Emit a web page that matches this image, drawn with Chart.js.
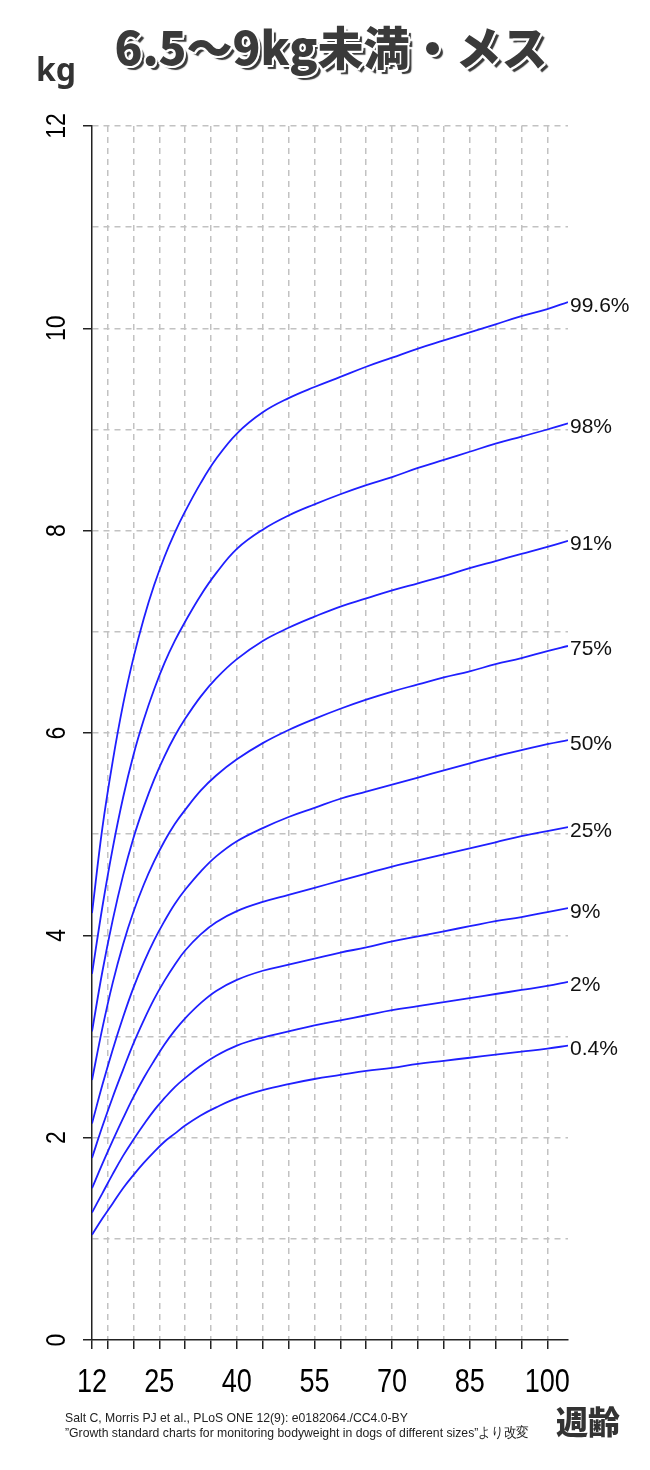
<!DOCTYPE html>
<html lang="ja">
<head>
<meta charset="utf-8">
<title>6.5〜9kg未満・メス</title>
<script src="https://cdn.jsdelivr.net/npm/chart.js@4.4.1/dist/chart.umd.min.js"></script>
<style>
  html, body { margin: 0; padding: 0; background: #fff; }
  #page { position: relative; width: 650px; height: 1470px; overflow: hidden; }
  #chartBox { position: absolute; left: 0; top: 0; width: 650px; height: 1470px; }
  .title {
    position: absolute; left: 0; width: 662px; top: 20px; text-align: center;
    font-family: "Noto Sans CJK JP", "Noto Sans", sans-serif; font-weight: 900;
    font-size: 46px; line-height: 50px; color: #3a3a3a; white-space: nowrap;
    text-shadow: 2px 0 0 #fff, -2px 0 0 #fff, 0 2px 0 #fff, 0 -2px 0 #fff,
      1.5px 1.5px 0 #fff, -1.5px -1.5px 0 #fff, 1.5px -1.5px 0 #fff, -1.5px 1.5px 0 #fff,
      4px 4px 1px #3a3a3a;
  }
  .unit {
    position: absolute; left: 36px; top: 48px;
    font-family: "Noto Sans", "Noto Sans CJK JP", sans-serif; font-weight: 700;
    font-size: 32px; line-height: 42px; color: #333;
  }
  .xunit {
    position: absolute; left: 556px; top: 1400px;
    font-family: "Noto Sans CJK JP", sans-serif; font-weight: 900;
    font-size: 32px; line-height: 40px; color: #333;
  }
  .credit {
    position: absolute; left: 65px; top: 1410px;
    font-family: "Liberation Sans", Arial, sans-serif; font-size: 13.5px; line-height: 15px;
    color: #222; white-space: nowrap; transform: scaleX(0.905); transform-origin: 0 0;
  }
</style>
</head>
<body>
<div id="page">
  <div id="chartBox"><canvas id="myChart"></canvas></div>
  <div class="title">6.5〜9kg未満・メス</div>
  <div class="unit">kg</div>
  <div class="xunit">週齢</div>
  <div class="credit">Salt C, Morris PJ et al., PLoS ONE 12(9): e0182064./CC4.0-BY<br>”Growth standard charts for monitoring bodyweight in dogs of different sizes”より改変</div>
</div>
<script>
// age in weeks
const weeks = [12, 14, 16, 18, 20, 22, 24, 26, 28, 30, 33, 36, 40, 45, 50, 55, 60, 65, 70, 75, 80, 85, 90, 95, 100, 104];

// body weight (kg) per percentile
const p996 = [4.22, 5.06, 5.72, 6.28, 6.74, 7.13, 7.46, 7.74, 7.98, 8.19, 8.47, 8.71, 8.96, 9.17, 9.31, 9.42, 9.52, 9.62, 9.71, 9.80, 9.88, 9.96, 10.04, 10.12, 10.19, 10.26];
const p98 = [3.62, 4.28, 4.86, 5.36, 5.78, 6.13, 6.43, 6.69, 6.91, 7.10, 7.36, 7.58, 7.82, 8.01, 8.15, 8.26, 8.36, 8.45, 8.53, 8.62, 8.70, 8.78, 8.86, 8.93, 9.00, 9.06];
const p91 = [3.05, 3.64, 4.15, 4.59, 4.96, 5.27, 5.54, 5.77, 5.97, 6.14, 6.36, 6.54, 6.73, 6.91, 7.04, 7.15, 7.25, 7.33, 7.41, 7.48, 7.55, 7.63, 7.70, 7.77, 7.84, 7.90];
const p75 = [2.57, 3.08, 3.53, 3.91, 4.23, 4.50, 4.73, 4.93, 5.10, 5.24, 5.43, 5.58, 5.74, 5.90, 6.03, 6.14, 6.24, 6.33, 6.41, 6.48, 6.55, 6.61, 6.68, 6.74, 6.81, 6.86];
const p50 = [2.14, 2.52, 2.87, 3.19, 3.48, 3.73, 3.95, 4.14, 4.31, 4.45, 4.63, 4.78, 4.93, 5.06, 5.17, 5.26, 5.35, 5.42, 5.49, 5.56, 5.63, 5.70, 5.77, 5.83, 5.89, 5.93];
const p25 = [1.80, 2.11, 2.40, 2.67, 2.93, 3.16, 3.37, 3.55, 3.71, 3.85, 4.01, 4.13, 4.24, 4.33, 4.40, 4.47, 4.54, 4.61, 4.68, 4.74, 4.80, 4.86, 4.92, 4.98, 5.03, 5.07];
const p9 = [1.50, 1.74, 1.97, 2.19, 2.40, 2.59, 2.76, 2.92, 3.06, 3.18, 3.33, 3.45, 3.56, 3.65, 3.71, 3.77, 3.83, 3.88, 3.94, 3.99, 4.04, 4.09, 4.14, 4.18, 4.23, 4.27];
const p2 = [1.26, 1.45, 1.64, 1.82, 1.98, 2.13, 2.27, 2.39, 2.50, 2.59, 2.71, 2.81, 2.91, 2.99, 3.05, 3.11, 3.16, 3.21, 3.26, 3.30, 3.34, 3.38, 3.42, 3.46, 3.50, 3.54];
const p04 = [1.04, 1.20, 1.35, 1.50, 1.63, 1.75, 1.86, 1.96, 2.04, 2.12, 2.22, 2.30, 2.39, 2.47, 2.53, 2.58, 2.62, 2.66, 2.69, 2.73, 2.76, 2.79, 2.82, 2.85, 2.88, 2.91];

const seriesList = [p996, p98, p91, p75, p50, p25, p9, p2, p04];
const pctLabels = ["99.6%", "98%", "91%", "75%", "50%", "25%", "9%", "2%", "0.4%"];

// axis ticks
const xTicks = [12, 15, 20, 25, 30, 35, 40, 45, 50, 55, 60, 65, 70, 75, 80, 85, 90, 95, 100];
const xTickLabels = [12, 25, 40, 55, 70, 85, 100];
const yTicks = [0, 1, 2, 3, 4, 5, 6, 7, 8, 9, 10, 11, 12];
const yTickLabels = [0, 2, 4, 6, 8, 10, 12];

const GRID = "#c2c2c2";
const AXIS = "#222";

function condensed(ctx, text, x, y, rot, sx) {
  ctx.save();
  ctx.translate(x, y);
  ctx.rotate(rot);
  ctx.scale(sx, 1);
  ctx.fillText(text, 0, 0);
  ctx.restore();
}

const labelPlugin = {
  id: "labelPlugin",
  afterDraw(chart) {
    const ctx = chart.ctx;
    const xs = chart.scales.x;
    const ys = chart.scales.y;
    ctx.save();
    ctx.fillStyle = "#000";

    // x tick labels
    ctx.font = '33px "Liberation Sans", Arial, sans-serif';
    ctx.textAlign = "center";
    ctx.textBaseline = "alphabetic";
    xTickLabels.forEach((v) => {
      condensed(ctx, String(v), xs.getPixelForValue(v), 1392, 0, 0.82);
    });

    // y tick labels, rotated
    ctx.font = '28px "Liberation Sans", Arial, sans-serif';
    yTickLabels.forEach((v) => {
      condensed(ctx, String(v), 65, ys.getPixelForValue(v), -Math.PI / 2, 0.82);
    });

    // percentile labels at the end of each curve
    ctx.fillStyle = "#111";
    ctx.font = '21px "Liberation Sans", Arial, sans-serif';
    ctx.textAlign = "left";
    seriesList.forEach((s, i) => {
      const px = xs.getPixelForValue(weeks[weeks.length - 1]) + 2;
      const py = ys.getPixelForValue(s[s.length - 1]) + 9.5;
      ctx.fillText(pctLabels[i], px, py);
    });
    ctx.restore();
  },
};

const datasets = seriesList.map((s, i) => ({
  label: pctLabels[i],
  data: weeks.map((w, j) => ({ x: w, y: s[j] })),
  borderColor: "#1f1fff",
  borderWidth: 1.8,
  pointRadius: 0,
  tension: 0.4,
  fill: false,
}));

new Chart(document.getElementById("myChart"), {
  type: "line",
  data: { datasets: datasets },
  plugins: [labelPlugin],
  options: {
    responsive: true,
    maintainAspectRatio: false,
    animation: false,
    layout: { padding: { top: 126, right: 82, bottom: 120, left: 0 } },
    plugins: { legend: { display: false }, tooltip: { enabled: false }, title: { display: false } },
    scales: {
      x: {
        type: "linear",
        min: 12,
        max: 104,
        afterBuildTicks: (scale) => { scale.ticks = xTicks.map((v) => ({ value: v })); },
        afterFit: (scale) => { scale.height = 10; },
        ticks: { display: false },
        grid: {
          color: (c) => (c.tick && c.tick.value === 12 ? "rgba(0,0,0,0)" : GRID),
          lineWidth: 1.5,
          tickColor: AXIS,
          tickWidth: 1.5,
          tickLength: 9,
        },
        border: { display: true, color: AXIS, width: 1.5, dash: [6, 5] },
      },
      y: {
        type: "linear",
        min: 0,
        max: 12,
        afterBuildTicks: (scale) => { scale.ticks = yTicks.map((v) => ({ value: v })); },
        afterFit: (scale) => { scale.width = 92; },
        ticks: { display: false },
        grid: {
          color: (c) => (c.tick && c.tick.value === 0 ? "rgba(0,0,0,0)" : GRID),
          lineWidth: 1.5,
          tickColor: (c) => (c.tick && c.tick.value % 2 === 0 ? AXIS : "rgba(0,0,0,0)"),
          tickWidth: 1.5,
          tickLength: 9,
        },
        border: { display: true, color: AXIS, width: 1.5, dash: [6, 5] },
      },
    },
  },
});
</script>
</body>
</html>
